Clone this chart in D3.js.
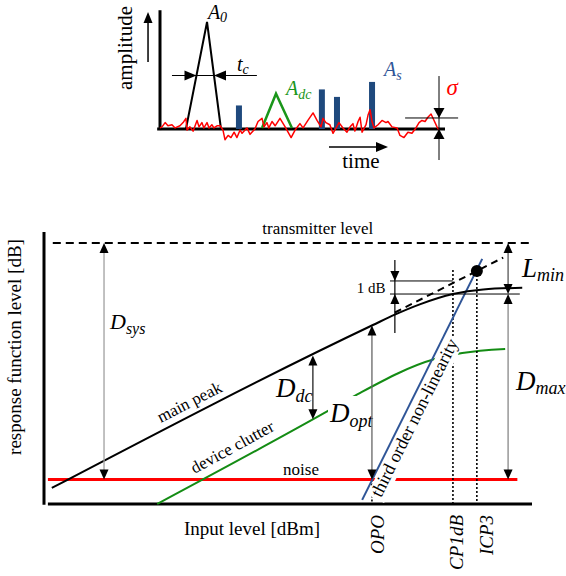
<!DOCTYPE html>
<html lang="en">
<head>
<meta charset="utf-8">
<title>Dynamic range sketch</title>
<script src="https://d3js.org/d3.v7.min.js"></script>
<style>
body { margin: 0; background: #fff; }
text { font-family: "Liberation Serif", "Times New Roman", serif; }
</style>
</head>
<body>
<script>
// ---- top panel data (time in arbitrary units, amplitude in % of A0)
var noiseTrace = [[0,1],[0.7,2],[1.8,6],[2.8,3],[4.2,4],[5.3,1],[7,3],[8.1,6],[9.1,10],[9.5,-1],[10.5,2],[11.6,-2],[13,8],[13.7,2],[14.7,6],[15.4,1],[16.5,6],[17.2,1],[18.2,4],[18.9,1],[20,3],[21.1,3],[22.1,-1],[22.8,-10],[23.9,-6],[24.9,-8],[26,-3],[27,-8],[28.1,-1],[28.8,-4],[30.5,1],[31.6,-5],[33.3,0],[34.4,7],[35.8,10],[36.5,2],[37.5,6],[38.2,1],[39.3,7],[40.4,3],[42.1,10],[43.9,2],[46,-8],[47.4,-1],[49.1,5],[50.2,1],[51.9,8],[53.7,15],[55.1,8],[56.5,2],[57.2,10],[58.2,6],[59.6,4],[60.7,-4],[61.8,1],[62.8,6],[64.2,1],[65.6,-3],[66.7,2],[67.7,5],[68.4,-2],[69.5,7],[70.2,11],[70.9,-3],[72.3,4],[73,13],[73.7,18],[74.4,7],[75.1,1],[76.5,4],[77.9,8],[79.3,6],[80,7],[81.4,2],[83.2,1],[84.2,-6],[85.6,-8],[87,-3],[88.4,-4],[89.8,1],[90.9,6],[91.9,8],[93,7],[94,11],[95.1,14],[95.8,10],[97.2,2],[97.9,-1]];
var mainPulse = [[9.1,0],[16.5,100],[21.4,0]];
var clutterPulse = [[35.8,1],[40.7,33],[46.3,1]];
var sidelobeTimes = [27.7, 56.8, 62.1, 74.4];
var sidelobeHeights = [22, 37, 30, 44];
var sigmaLevel = 10.3;

// ---- bottom panel data (input level / response level, arbitrary dB units)
var mainPeak = [[1.6,5.9],[67.4,65.8],[72,69.7],[77,73.4],[83.8,77.2],[90,78.9],[98,79.5]];
var mainPeakLinear = [[71.9,70.4],[94.1,90.6]];
var deviceClutter = [[23.2,0],[58.2,34.2],[64.3,40.4],[80.1,53.3],[85.7,55.5],[94.5,57.0]];
var thirdOrder = [[65.2,1.5],[89.8,90.1]];
var noiseLevel = 9;
var transmitterLevel = 96;
var compLevel = 77.2;      // 1 dB compressed level
var linearLevel = 82.0;    // linear extrapolation at CP1dB
var icp3 = [88.7, 85.7];
var markerNames = ["OPO", "CP1dB", "ICP3"];
var markerInputs = [67.2, 83.8, 88.7];
var markerTops = [9, 86, 85.7];
// dimension arrows: x position, low end, high end
var dimX = [12.3, 55.1, 67.2, 95.1, 95.1];
var dimLow = [9, 31.2, 9, 9, 77.2];
var dimHigh = [96, 54.6, 65.6, 77.2, 96];
var dimColor = ["#a0a0a0", "#222", "#666", "#888", "#555"];

var w = 566, h = 576;
var svg = d3.select("body").append("svg").attr("width", w).attr("height", h);

var line = d3.line();

function head(g, px, py, dir, len, wid) {
	var p;
	if (dir == "up") p = [[px,py],[px-wid/2,py+len],[px+wid/2,py+len]];
	if (dir == "down") p = [[px,py],[px-wid/2,py-len],[px+wid/2,py-len]];
	if (dir == "right") p = [[px,py],[px-len,py-wid/2],[px-len,py+wid/2]];
	if (dir == "left") p = [[px,py],[px+len,py-wid/2],[px+len,py+wid/2]];
	g.append("path").attr("d", line(p) + "Z").attr("fill", "#000");
}

function subText(g, px, py, main, sub, size, subSize, color, drop) {
	var t = g.append("text").attr("x", px).attr("y", py)
		.attr("font-size", size).attr("font-style", "italic").attr("fill", color);
	t.append("tspan").text(main);
	t.append("tspan").attr("dy", drop).attr("font-size", subSize).text(sub);
	return t;
}

//==================== TOP PANEL ====================
var tx = d3.scaleLinear().domain([0, 100]).range([160, 445]);
var ay = d3.scaleLinear().domain([0, 100]).range([129, 22]);
var upper = svg.append("g");

// axes
upper.append("line").attr("x1", tx(0)).attr("x2", tx(0)).attr("y1", ay(-1)).attr("y2", ay(111))
	.attr("stroke", "#000").attr("stroke-width", 3);
upper.append("line").attr("x1", tx(-1)).attr("x2", tx(100)).attr("y1", ay(0)).attr("y2", ay(0))
	.attr("stroke", "#000").attr("stroke-width", 3);

// amplitude arrow + label
upper.append("line").attr("x1", tx(-4.2)).attr("x2", tx(-4.2)).attr("y1", ay(62.6)).attr("y2", ay(105))
	.attr("stroke", "#000").attr("stroke-width", 1.5);
head(upper, tx(-4.2), ay(109.3), "up", 11, 9);
upper.append("text").attr("transform", "translate(" + tx(-9.8) + "," + ay(75.7) + ") rotate(-90)")
	.attr("text-anchor", "middle").attr("font-size", 21).text("amplitude");

// time arrow + label
upper.append("line").attr("x1", tx(59.3)).attr("x2", tx(76)).attr("y1", ay(-16.8)).attr("y2", ay(-16.8))
	.attr("stroke", "#000").attr("stroke-width", 1.5);
head(upper, tx(80), ay(-16.8), "right", 12, 10);
upper.append("text").attr("x", tx(70.5)).attr("y", ay(-36.4)).attr("text-anchor", "middle")
	.attr("font-size", 21).text("time");

// sidelobe bars
upper.selectAll("rect.side").data(sidelobeTimes).enter().append("rect")
	.attr("class", "side")
	.attr("x", function(d) { return tx(d) - 3; })
	.attr("y", function(d, i) { return ay(sidelobeHeights[i]); })
	.attr("width", 6)
	.attr("height", function(d, i) { return ay(0) - ay(sidelobeHeights[i]); })
	.attr("fill", "#1f497d");

// main pulse and clutter pulse
upper.append("path").attr("d", line(mainPulse.map(function(d) { return [tx(d[0]), ay(d[1])]; })))
	.attr("fill", "none").attr("stroke", "#000").attr("stroke-width", 2);
upper.append("path").attr("d", line(clutterPulse.map(function(d) { return [tx(d[0]), ay(d[1])]; })))
	.attr("fill", "none").attr("stroke", "#1a961a").attr("stroke-width", 2.5);

// noise
upper.append("path").attr("d", line(noiseTrace.map(function(d) { return [tx(d[0]), ay(d[1])]; })))
	.attr("fill", "none").attr("stroke", "#ff0000").attr("stroke-width", 1.5).attr("stroke-linejoin", "round");

// tc width marker at half height
var leftLeg = mainPulse[0][0] + (mainPulse[1][0] - mainPulse[0][0]) * 0.5;
var rightLeg = mainPulse[1][0] + (mainPulse[2][0] - mainPulse[1][0]) * 0.5;
upper.append("line").attr("x1", tx(4.2)).attr("x2", tx(34)).attr("y1", ay(50)).attr("y2", ay(50))
	.attr("stroke", "#000").attr("stroke-width", 1);
head(upper, tx(leftLeg), ay(50), "right", 12, 10);
head(upper, tx(rightLeg), ay(50), "left", 12, 10);

// sigma marker
upper.append("line").attr("x1", tx(97.9)).attr("x2", tx(97.9)).attr("y1", ay(49.5)).attr("y2", ay(-29))
	.attr("stroke", "#000").attr("stroke-width", 1);
upper.append("line").attr("x1", tx(86)).attr("x2", tx(104.6)).attr("y1", ay(sigmaLevel)).attr("y2", ay(sigmaLevel))
	.attr("stroke", "#000").attr("stroke-width", 1);
head(upper, tx(97.9), ay(sigmaLevel), "down", 10, 11);
head(upper, tx(97.9), ay(0), "up", 10, 11);

// labels
subText(upper, tx(16.8), ay(103), "A", "0", 20, 14, "#000", 3);
subText(upper, tx(27), ay(54.2), "t", "c", 20, 14, "#000", 3);
subText(upper, tx(44.2), ay(31.8), "A", "dc", 20, 14, "#1a961a", 4);
subText(upper, tx(78.6), ay(49.5), "A", "s", 20, 14, "#2f5597", 4);
upper.append("text").attr("x", tx(100.5)).attr("y", ay(31.8)).attr("font-size", 23)
	.attr("font-style", "italic").attr("fill", "#ff0000").text("\u03c3");

//==================== BOTTOM PANEL ====================
var x = d3.scaleLinear().domain([0, 100]).range([44, 532]);
var y = d3.scaleLinear().domain([0, 100]).range([504, 232]);
var bot = svg.append("g");
function pts(arr) { return arr.map(function(d) { return [x(d[0]), y(d[1])]; }); }

// axes
bot.append("line").attr("x1", x(0)).attr("x2", x(0)).attr("y1", y(-0.3)).attr("y2", y(100))
	.attr("stroke", "#000").attr("stroke-width", 3);
bot.append("line").attr("x1", x(0.8)).attr("x2", x(100)).attr("y1", y(0)).attr("y2", y(0))
	.attr("stroke", "#000").attr("stroke-width", 3);

bot.append("text").attr("transform", "translate(21," + 347 + ") rotate(-90)")
	.attr("text-anchor", "middle").attr("font-size", 19).text("response function level [dB]");
bot.append("text").attr("x", 252).attr("y", 535).attr("text-anchor", "middle")
	.attr("font-size", 19).text("Input level [dBm]");

// transmitter level
bot.append("line").attr("x1", x(1.8)).attr("x2", x(99.6)).attr("y1", y(transmitterLevel)).attr("y2", y(transmitterLevel))
	.attr("stroke", "#000").attr("stroke-width", 2).attr("stroke-dasharray", "8,5");
bot.append("text").attr("x", x(56.1)).attr("y", y(99.3)).attr("text-anchor", "middle")
	.attr("font-size", 17).text("transmitter level");

// noise level
bot.append("line").attr("x1", x(0.8)).attr("x2", x(97)).attr("y1", y(noiseLevel)).attr("y2", y(noiseLevel))
	.attr("stroke", "#ff0000").attr("stroke-width", 3);
bot.append("text").attr("x", x(49)).attr("y", y(10.7)).attr("font-size", 17).text("noise");

// device clutter
bot.append("path").attr("d", d3.line().curve(d3.curveMonotoneX)(pts(deviceClutter)))
	.attr("fill", "none").attr("stroke", "#148c14").attr("stroke-width", 2);
var cl = [x(deviceClutter[0][0]), y(deviceClutter[0][1]), x(deviceClutter[1][0]), y(deviceClutter[1][1])];
var clAng = Math.atan2(cl[3] - cl[1], cl[2] - cl[0]) * 180 / Math.PI;
bot.append("text").attr("transform", "translate(235,452) rotate(" + clAng + ")")
	.attr("text-anchor", "middle").attr("font-size", 17).text("device clutter");

// dotted marker lines
markerInputs.forEach(function(m, i) {
	bot.append("line").attr("x1", x(m)).attr("x2", x(m)).attr("y1", y(markerTops[i])).attr("y2", y(0))
		.attr("stroke", "#000").attr("stroke-width", 1.6).attr("stroke-dasharray", "2,2");
});
var mBase = [384, 463, 493];
markerNames.forEach(function(n, i) {
	bot.append("text").attr("transform", "translate(" + mBase[i] + ",515) rotate(-90)")
		.attr("text-anchor", "end").attr("font-size", 19).attr("font-style", "italic").text(n);
});

// D_opt label with white backing
bot.append("rect").attr("x", 328).attr("y", 396).attr("width", 36).attr("height", 30).attr("fill", "#fff");
subText(bot, 330, 422, "D", "opt", 27, 18, "#000", 5);

// third order non-linearity
var a3 = [x(thirdOrder[0][0]), y(thirdOrder[0][1])], b3 = [x(thirdOrder[1][0]), y(thirdOrder[1][1])];
var ang3 = Math.atan2(b3[1] - a3[1], b3[0] - a3[0]) * 180 / Math.PI;
var f3 = 0.36;
var c3 = [a3[0] + (b3[0] - a3[0]) * f3, a3[1] + (b3[1] - a3[1]) * f3];
var g3 = bot.append("g").attr("transform", "translate(" + c3[0] + "," + c3[1] + ") rotate(" + ang3 + ")");
var bg3 = g3.append("rect").attr("fill", "#fff");
var t3 = g3.append("text").attr("x", 0).attr("y", 16).attr("text-anchor", "middle")
	.attr("font-size", 18).text("third order non-linearity");
var tw3 = t3.node().getComputedTextLength();
bg3.attr("x", -tw3 / 2 - 3).attr("y", 2).attr("width", tw3 + 6).attr("height", 19);
bot.append("path").attr("d", line([a3, b3])).attr("stroke", "#2f5597").attr("stroke-width", 2);

// main peak
bot.append("path").attr("d", d3.line().curve(d3.curveMonotoneX)(pts(mainPeak)))
	.attr("fill", "none").attr("stroke", "#000").attr("stroke-width", 2);
bot.append("path").attr("d", line(pts(mainPeakLinear)))
	.attr("fill", "none").attr("stroke", "#000").attr("stroke-width", 2).attr("stroke-dasharray", "7,5");
var mp = [x(mainPeak[0][0]), y(mainPeak[0][1]), x(mainPeak[1][0]), y(mainPeak[1][1])];
var mpAng = Math.atan2(mp[3] - mp[1], mp[2] - mp[0]) * 180 / Math.PI;
bot.append("text").attr("transform", "translate(192,407) rotate(" + mpAng + ")")
	.attr("text-anchor", "middle").attr("font-size", 17).text("main peak");

// ICP3 point
bot.append("circle").attr("cx", x(icp3[0])).attr("cy", y(icp3[1])).attr("r", 6).attr("fill", "#000");

// 1 dB compression marker
bot.append("line").attr("x1", x(70.9)).attr("x2", x(markerInputs[1])).attr("y1", y(linearLevel)).attr("y2", y(linearLevel))
	.attr("stroke", "#000").attr("stroke-width", 1);
bot.append("line").attr("x1", x(70.9)).attr("x2", x(97.5)).attr("y1", y(compLevel)).attr("y2", y(compLevel))
	.attr("stroke", "#000").attr("stroke-width", 1);
bot.append("line").attr("x1", x(71.9)).attr("x2", x(71.9)).attr("y1", y(89.7)).attr("y2", y(62.9))
	.attr("stroke", "#000").attr("stroke-width", 1.2);
head(bot, x(71.9), y(linearLevel), "down", 10, 9);
head(bot, x(71.9), y(compLevel), "up", 10, 9);
bot.append("text").attr("x", x(64.1)).attr("y", y(77.6)).attr("font-size", 15).text("1 dB");

// dimension arrows
dimX.forEach(function(d, i) {
	var px = x(d), pLo = y(dimLow[i]), pHi = y(dimHigh[i]);
	bot.append("line").attr("x1", px).attr("x2", px).attr("y1", pHi + 8).attr("y2", pLo - 8)
		.attr("stroke", dimColor[i]).attr("stroke-width", 1.3);
	head(bot, px, pHi, "up", 10, 9);
	head(bot, px, pLo, "down", 10, 9);
});

// dimension labels
subText(bot, 110, 329, "D", "sys", 22, 16, "#000", 5);
subText(bot, 276, 397, "D", "dc", 27, 18, "#000", 5);
subText(bot, 516, 390, "D", "max", 27, 18, "#000", 4);
subText(bot, 522, 277, "L", "min", 27, 18, "#000", 4);
</script>
</body>
</html>
